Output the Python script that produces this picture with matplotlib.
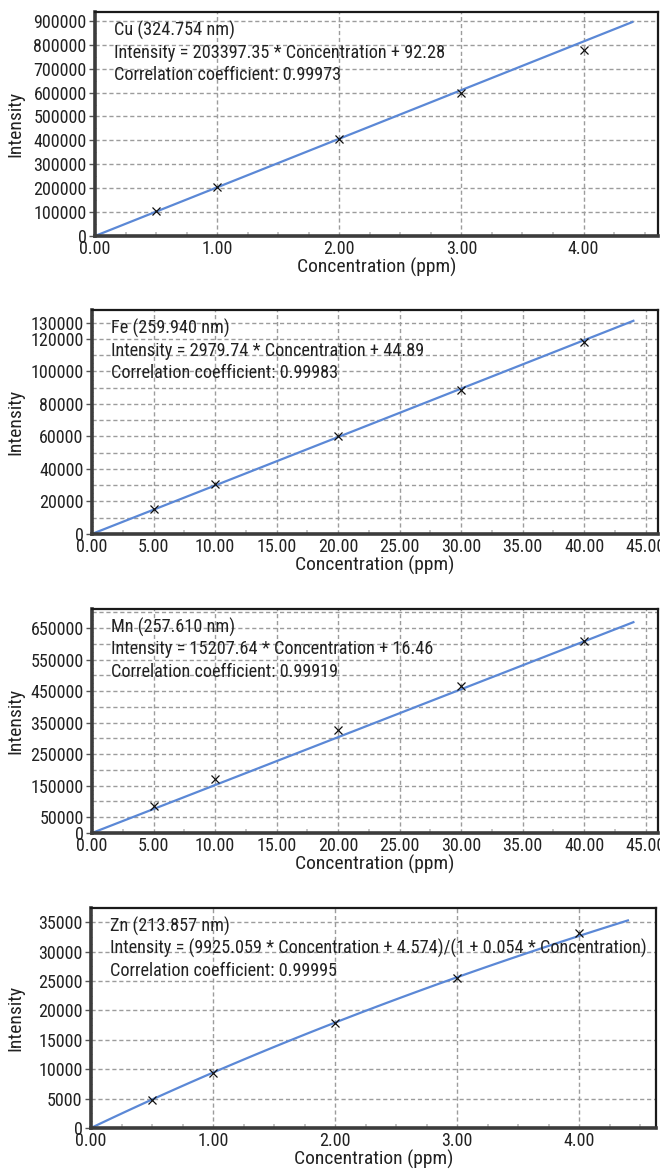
import numpy as np
import matplotlib
matplotlib.use("Agg")
import matplotlib.pyplot as plt
from matplotlib import font_manager as fm
from matplotlib.ticker import MultipleLocator, FixedLocator, FormatStrFormatter
from matplotlib.transforms import offset_copy

# pick a condensed face if one is installed (the original uses a narrow font)
FONT, STRETCH, SIZE = 'DejaVu Sans', 'normal', 11
for f in fm.fontManager.ttflist:
    nm = f.name
    if nm in ('Liberation Sans Narrow', 'Roboto Condensed', 'Open Sans Condensed'):
        FONT, STRETCH, SIZE = nm, 'normal', 14
        break
else:
    for f in fm.fontManager.ttflist:
        st = str(f.stretch)
        if f.name in ('Roboto', 'Open Sans', 'DejaVu Sans', 'Noto Sans') and \
                (st == 'condensed' or st in ('75', '75.0') or 'ondensed' in st):
            FONT, STRETCH, SIZE = f.name, 'condensed', 14
            break

plt.rcParams['font.family'] = [FONT, 'DejaVu Sans']
plt.rcParams['font.stretch'] = STRETCH
plt.rcParams['font.size'] = SIZE
TICK = SIZE - 1
NOTE = SIZE * 0.94

LINE = "#5b88d6"
GRID = "#9c9c9c"

# measured standards
cu_conc = [0.5, 1.0, 2.0, 3.0, 4.0]
cu_int = [105000, 205000, 406000, 598000, 778000]
fe_conc = [5, 10, 20, 30, 40]
fe_int = [15400, 30800, 60300, 88600, 118100]
mn_conc = [5, 10, 20, 30, 40]
mn_int = [85700, 171000, 327000, 467000, 610000]
zn_conc = [0.5, 1.0, 2.0, 3.0, 4.0]
zn_int = [4760, 9350, 17860, 25500, 33100]

# fit coefficients
cu_fit = (203397.35, 92.28)
fe_fit = (2979.74, 44.89)
mn_fit = (15207.64, 16.46)
zn_fit = (9925.059, 4.574, 0.054)

cu_text = ["Cu (324.754 nm)", "Intensity = 203397.35 * Concentration + 92.28",
           "Correlation coefficient: 0.99973"]
fe_text = ["Fe (259.940 nm)", "Intensity = 2979.74 * Concentration + 44.89",
           "Correlation coefficient: 0.99983"]
mn_text = ["Mn (257.610 nm)", "Intensity = 15207.64 * Concentration + 16.46",
           "Correlation coefficient: 0.99919"]
zn_text = ["Zn (213.857 nm)",
           "Intensity = (9925.059 * Concentration + 4.574)/(1 + 0.054 * Concentration)",
           "Correlation coefficient: 0.99995"]

W, H = 660, 1172
fig = plt.figure(figsize=(W / 100, H / 100), dpi=100)


def box(l, r, t, b):
    return [l / W, 1 - b / H, (r - l) / W, (b - t) / H]


def panel(rect, xs, ys, fx, fy, lines, xlim, ylim, xmaj, xmin, ygrid, yticks, yminor):
    ax = fig.add_axes(box(*rect))
    ax.set_xlim(*xlim)
    ax.set_ylim(*ylim)
    ax.xaxis.set_major_locator(MultipleLocator(xmaj))
    ax.xaxis.set_minor_locator(MultipleLocator(xmin))
    ax.xaxis.set_major_formatter(FormatStrFormatter('%.2f'))
    ax.yaxis.set_major_locator(FixedLocator(yticks))
    ax.yaxis.set_minor_locator(MultipleLocator(yminor))
    for v in np.arange(xmaj, xlim[1], xmaj):
        ax.axvline(v, color=GRID, lw=1, ls=(0, (3, 2)), zorder=0)
    for v in np.arange(ygrid, ylim[1], ygrid):
        ax.axhline(v, color=GRID, lw=1, ls=(0, (3, 2)), zorder=0)
    ax.plot(fx, fy, color=LINE, lw=1.6, zorder=2)
    ax.plot(xs, ys, 'x', color='#111111', ms=6, mew=0.9, zorder=3)
    for sp in ['left', 'bottom']:
        ax.spines[sp].set_linewidth(2.6)
        ax.spines[sp].set_color('#3c3c3c')
    for sp in ['top', 'right']:
        ax.spines[sp].set_linewidth(1.6)
        ax.spines[sp].set_color('#1a1a1a')
    ax.tick_params(axis='y', which='major', length=4, width=1, pad=2, color='#555555',
                   labelcolor='#222222', labelsize=TICK)
    ax.tick_params(axis='x', which='major', length=0, pad=3, labelcolor='#222222',
                   labelsize=TICK)
    ax.tick_params(axis='y', which='minor', length=2, width=0.8, color='#999999', direction='inout')
    ax.tick_params(axis='x', which='minor', length=3, width=1.2, color='#bbbbbb', direction='in')
    ax.set_xlabel("Concentration (ppm)", labelpad=0, color='#222222')
    ax.set_ylabel("Intensity", color='#222222')
    ax.yaxis.set_label_coords(-(rect[0] - 24) / (rect[1] - rect[0]), 0.5)
    # annotation lines, pixel offsets from the top left corner of the axes
    for i, s in enumerate(lines):
        tr = offset_copy(ax.transAxes, fig=fig, x=19, y=-18 - 22.5 * i, units='dots')
        ax.text(0, 1, s, transform=tr, va='center', ha='left', color='#222222',
                fontsize=NOTE, zorder=4)
    return ax


xc = np.linspace(0, 4.4, 50)
panel((95, 658, 12, 236), cu_conc, cu_int, xc, cu_fit[0] * xc + cu_fit[1], cu_text,
      (0, 4.61), (0, 937000), 1.0, 0.25, 100000, np.arange(0, 900001, 100000), 50000)

xf = np.linspace(0, 44, 50)
panel((92, 658, 310, 534), fe_conc, fe_int, xf, fe_fit[0] * xf + fe_fit[1], fe_text,
      (0, 46.0), (0, 137800), 5.0, 2.5, 10000,
      [0, 20000, 40000, 60000, 80000, 100000, 120000, 130000], 2500)

xm = np.linspace(0, 44, 50)
panel((92, 658, 609, 833), mn_conc, mn_int, xm, mn_fit[0] * xm + mn_fit[1], mn_text,
      (0, 46.0), (0, 711000), 5.0, 2.5, 50000,
      [0, 50000, 150000, 250000, 350000, 450000, 550000, 650000], 12500)

xz = np.linspace(0, 4.4, 50)
panel((91, 656, 908, 1128), zn_conc, zn_int, xz,
      (zn_fit[0] * xz + zn_fit[1]) / (1 + zn_fit[2] * xz), zn_text,
      (0, 4.63), (0, 37400), 1.0, 0.25, 5000, np.arange(0, 35001, 5000), 1250)

fig.savefig("out.png", dpi=100)
